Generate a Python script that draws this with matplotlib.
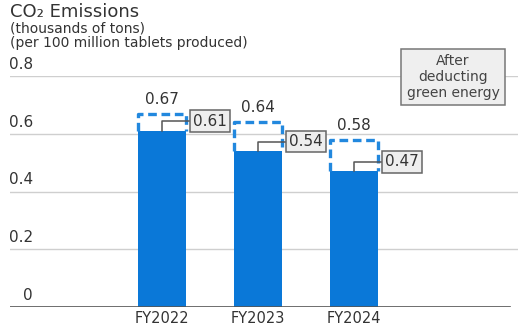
import matplotlib
matplotlib.use("Agg")
import matplotlib.pyplot as plt

# CO2 emissions per 100 million tablets (thousands of tons)
years = ["FY2022", "FY2023", "FY2024"]
total = [0.67, 0.64, 0.58]          # dashed outline, before green energy
after_green = [0.61, 0.54, 0.47]    # solid bar, after deducting green energy
y_ticks = [0, 0.2, 0.4, 0.6, 0.8]
y_tick_labels = ["0", "0.2", "0.4", "0.6", "0.8"]

W, H = 530, 325
bar_color = "#0a78d8"
dash_color = "#2288de"
text_color = "#333333"

fig = plt.figure(figsize=(W / 100, H / 100), dpi=100)
# axes placed in pixel terms: left 10, right 518, bottom line at y=307, 0.8 at y=76
ax = fig.add_axes([10 / W, (H - 307) / H, 508 / W, 231 / H])
ax.set_xlim(-1.583, 3.708)
ax.set_ylim(0, 0.8)
ax.axis("off")

# gridlines and the base line
for t in y_ticks[1:]:
    ax.axhline(t, color="#cfcfcf", lw=1, zorder=0)
ax.axhline(0, xmin=0, xmax=500 / 508, color="#555555", lw=1.2, zorder=3)

# y tick labels sit just above their gridlines, right-aligned
for t, lab in zip(y_ticks, y_tick_labels):
    ax.annotate(lab, xy=(-1.583 + 23 / 96, t), xytext=(0, 4), textcoords="offset pixels",
                ha="right", va="bottom", fontsize=11, color=text_color)

x = list(range(len(years)))
bw = 0.5
rise = 0.033

ax.bar(x, after_green, width=bw, color=bar_color, zorder=2)

for xi, tot, val in zip(x, total, after_green):
    x0, x1 = xi - bw / 2, xi + bw / 2
    # dashed outline for the emissions before green energy
    ax.plot([x0, x0, x1, x1], [val, tot, tot, val], color=dash_color, lw=2.4,
            dashes=(2.6, 1.4), solid_capstyle="butt", zorder=2)
    ax.annotate(f"{tot:.2f}", xy=(xi, tot), xytext=(0, 7), textcoords="offset pixels",
                ha="center", va="bottom", fontsize=11, color=text_color)
    # connector from bar top to the boxed value
    ax.plot([xi, xi, x1 + 0.07], [val, val + rise, val + rise], color="#555555",
            lw=1.1, zorder=4)
    ax.annotate(f"{val:.2f}", xy=(x1, val + rise), xytext=(7, 0), textcoords="offset pixels",
                ha="left", va="center", fontsize=11, color=text_color, zorder=5,
                bbox=dict(boxstyle="square,pad=0.22", fc="#eeeeee", ec="#666666", lw=1.1))

# category labels under the base line
for xi, lab in zip(x, years):
    ax.annotate(lab, xy=(xi, 0), xytext=(0, -16), textcoords="offset pixels",
                ha="center", va="baseline", fontsize=10.5, color=text_color)

# titles
fig.text(10 / W, 1 - 12 / H, "CO₂ Emissions", ha="left", va="center", fontsize=13, color=text_color)
fig.text(10 / W, 1 - 28 / H, "(thousands of tons)", ha="left", va="center", fontsize=10, color=text_color)
fig.text(10 / W, 1 - 43 / H, "(per 100 million tablets produced)", ha="left", va="center",
         fontsize=10, color=text_color)

# legend note box
fig.text(453 / W, 1 - 77 / H, "After\ndeducting\ngreen energy", ha="center", va="center",
         multialignment="center", fontsize=10, color="#444444", linespacing=1.15,
         bbox=dict(boxstyle="square,pad=0.38", fc="#efefef", ec="#777777", lw=1.1))

fig.savefig("out.png", dpi=100)
